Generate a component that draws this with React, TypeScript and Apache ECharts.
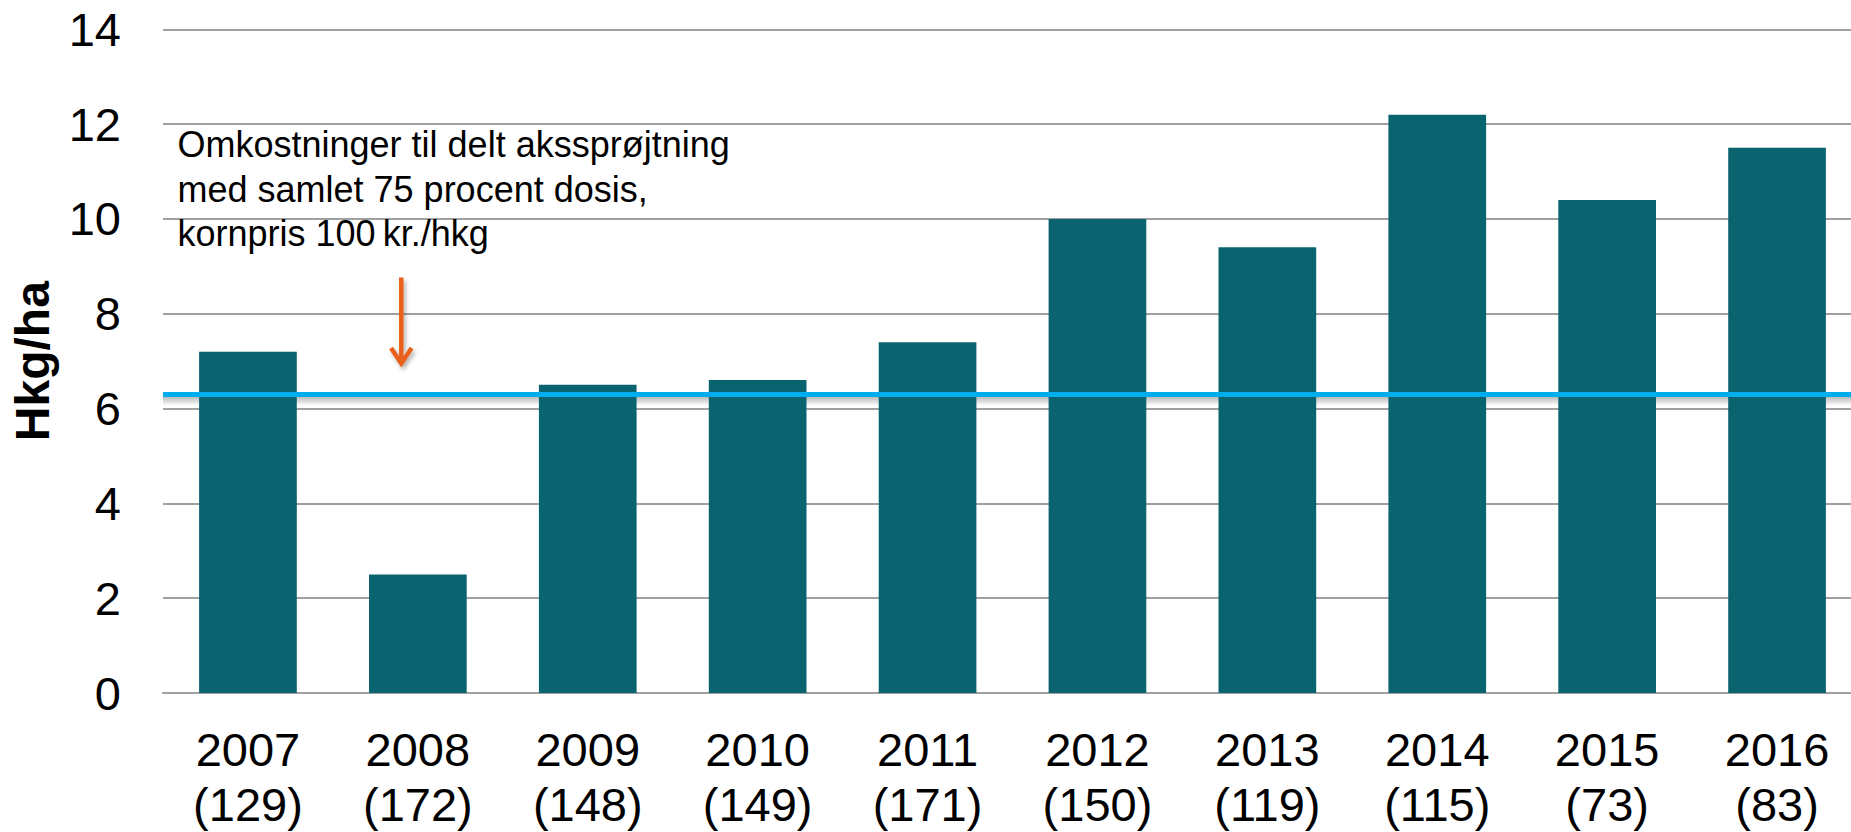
import React, { useEffect, useRef } from "react";
import * as echarts from "echarts";

const years = ["2007", "2008", "2009", "2010", "2011", "2012", "2013", "2014", "2015", "2016"];
const counts = ["129", "172", "148", "149", "171", "150", "119", "115", "73", "83"];
const values = [7.2, 2.5, 6.5, 6.6, 7.4, 10.0, 9.4, 12.2, 10.4, 11.5];
const threshold = 6.3;
const shadowDepth = 0.24;
const yTicks = { min: 0, max: 14, interval: 2 };
const annotation = [
  "Omkostninger til delt akssprøjtning",
  "med samlet 75 procent dosis,",
  "kornpris 100\u2009kr./hkg",
];
const yTitle = "Hkg/ha";

const FONT = "'Liberation Sans', Arial, Helvetica, sans-serif";

let registered = false;
function registerArrow() {
  if (registered) return;
  registered = true;
  echarts.graphic.registerShape(
    "downArrow",
    echarts.graphic.extendPath("M10.3 0 L10.3 86 M0 70.5 L10.3 86 L20.6 70.5", {})
  );
}

export default function App() {
  const ref = useRef<HTMLDivElement>(null);

  useEffect(() => {
    if (!ref.current) return;
    registerArrow();
    const chart = echarts.init(ref.current, null, { renderer: "svg" });
    const categories = years.map((y, i) => `${y}\n(${counts[i]})`);
    const orange = "#e8601a";
    chart.setOption({
      animation: false,
      backgroundColor: "#ffffff",
      grid: { left: 162, right: 0, top: 29.3, bottom: 138, containLabel: false },
      xAxis: {
        type: "category",
        data: categories,
        axisTick: { show: false },
        axisLine: { lineStyle: { color: "#a0a0a0", width: 2 } },
        axisLabel: {
          color: "#000",
          fontFamily: FONT,
          fontSize: 47,
          lineHeight: 55,
          margin: 29,
          interval: 0,
        },
      },
      yAxis: {
        type: "value",
        min: yTicks.min,
        max: yTicks.max,
        interval: yTicks.interval,
        name: yTitle,
        nameLocation: "middle",
        nameRotate: 90,
        nameGap: 107,
        nameTextStyle: { color: "#000", fontFamily: FONT, fontSize: 48, fontWeight: "bold" },
        axisLine: { show: false },
        axisTick: { show: false },
        axisLabel: { color: "#000", fontFamily: FONT, fontSize: 47, margin: 42 },
        splitLine: { lineStyle: { color: "#a0a0a0", width: 2 } },
      },
      series: [
        {
          type: "bar",
          data: values,
          barWidth: "57.5%",
          itemStyle: { color: "#096470" },
          z: 2,
        },
        {
          type: "line",
          data: [],
          z: 5,
          markArea: {
            silent: true,
            itemStyle: {
              color: {
                type: "linear",
                x: 0,
                y: 0,
                x2: 0,
                y2: 1,
                colorStops: [
                  { offset: 0, color: "rgba(0,0,0,0.35)" },
                  { offset: 1, color: "rgba(0,0,0,0)" },
                ],
              },
            },
            data: [[{ yAxis: threshold }, { yAxis: threshold - shadowDepth }]],
          },
          markLine: {
            silent: true,
            symbol: "none",
            label: { show: false },
            lineStyle: { color: "#00aeef", width: 5, type: "solid" },
            data: [{ yAxis: threshold }],
          },
        },
      ],
      graphic: [
        {
          type: "text",
          x: 177.5,
          y: 122,
          style: {
            text: annotation.join("\n"),
            font: `36px ${FONT}`,
            lineHeight: 44.7,
            fill: "#000",
            verticalAlign: "top",
            align: "left",
          },
          z: 10,
        },
        {
          type: "downArrow",
          x: 391,
          y: 277.5,
          style: {
            stroke: orange,
            lineWidth: 4.5,
            fill: null,
            lineJoin: "miter",
            shadowColor: "rgba(0,0,0,0.3)",
            shadowBlur: 4,
            shadowOffsetX: 2,
            shadowOffsetY: 3,
          },
          z: 10,
        },
      ],
    });
    return () => chart.dispose();
  }, []);

  return (
    <div
      style={{
        position: "fixed",
        left: 0,
        top: 0,
        width: 1851,
        height: 832,
        overflow: "hidden",
        background: "#fff",
      }}
    >
      <div ref={ref} style={{ width: 1862, height: 832 }} />
    </div>
  );
}
